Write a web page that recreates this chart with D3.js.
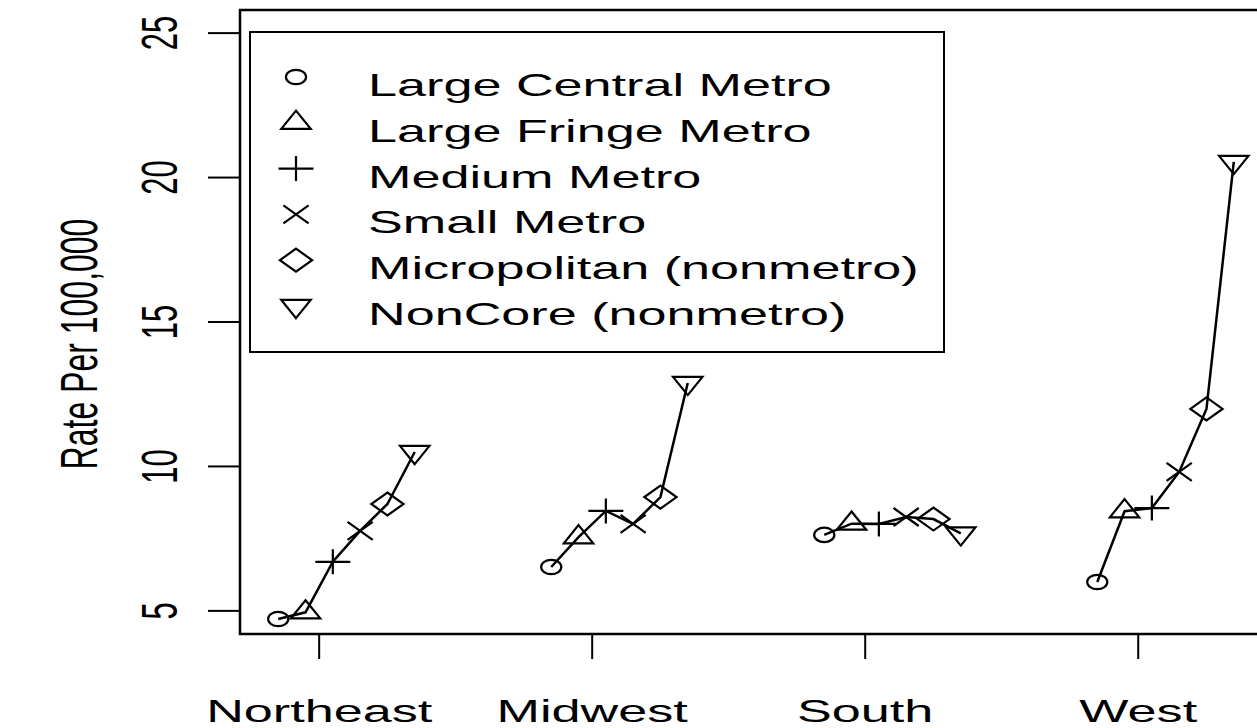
<!DOCTYPE html>
<html>
<head>
<meta charset="utf-8">
<script src="https://cdn.jsdelivr.net/npm/d3@7"></script>
<style>
  html, body { margin: 0; padding: 0; background: #fff; }
  svg { display: block; font-family: "Liberation Sans", Arial, sans-serif; }
</style>
</head>
<body>
<div id="chart"></div>
<script>
// region groups on the x axis
const regions = ['Northeast', 'Midwest', 'South', 'West'];

// urbanization levels, one symbol each
const categories = [
  'Large Central Metro',
  'Large Fringe Metro',
  'Medium Metro',
  'Small Metro',
  'Micropolitan (nonmetro)',
  'NonCore (nonmetro)'
];

// rate per 100,000 by region, in category order
const northeast = [4.72, 4.95, 6.70, 7.77, 8.70, 10.50];
const midwest = [6.52, 7.55, 8.46, 8.01, 8.94, 12.89];
const south = [7.63, 8.02, 8.01, 8.25, 8.18, 7.68];
const west = [6.00, 8.45, 8.56, 9.81, 11.99, 20.54];

// horizontal offset of each category inside its region group
const offsets = [-0.15, -0.05, 0.05, 0.15, 0.25, 0.35];

const yTicks = [5, 10, 15, 20, 25];

const series = [northeast, midwest, south, west];

const width = 1257, height = 728;
const textStretch = 1.63;   // the original is stretched sideways
const symStretch = 1.4;

const svg = d3.select('#chart').append('svg')
  .attr('width', width)
  .attr('height', height);

const x = d3.scaleLinear()
  .domain([0.71, 4.49])
  .range([240, 1272]);

const y = d3.scaleLinear()
  .domain([4.2, 25.8])
  .range([634, 10]);

// symbol outlines, unstretched, centred on 0,0
function symbolPath(i) {
  const t = 7.8;
  switch (i) {
    case 0: { const r = 7.2; return `M${r},0A${r},${r} 0 1,1 ${-r},0A${r},${r} 0 1,1 ${r},0Z`; }
    case 1: return `M0,${-1.555 * t}L${1.347 * t},${0.778 * t}L${-1.347 * t},${0.778 * t}Z`;
    case 2: { const s = 12.5; return `M${-s},0H${s}M0,${-s}V${s}`; }
    case 3: { const s = 9; return `M${-s},${-s}L${s},${s}M${-s},${s}L${s},${-s}`; }
    case 4: { const s = 11.5; return `M0,${-s}L${s},0L0,${s}L${-s},0Z`; }
    default: return `M0,${1.555 * t}L${1.347 * t},${-0.778 * t}L${-1.347 * t},${-0.778 * t}Z`;
  }
}

function drawSymbol(g, i, cx, cy) {
  g.append('path')
    .attr('d', symbolPath(i))
    .attr('transform', `translate(${cx},${cy}) scale(${symStretch},1)`)
    .attr('fill', 'none')
    .attr('stroke', '#000')
    .attr('stroke-width', 2.2)
    .attr('vector-effect', 'non-scaling-stroke');
}

// plot box (right side runs off the picture)
svg.append('rect')
  .attr('x', 240)
  .attr('y', 10)
  .attr('width', 1040)
  .attr('height', 624)
  .attr('fill', 'none')
  .attr('stroke', '#000')
  .attr('stroke-width', 2.5);

// y axis ticks and labels
const yAxis = svg.append('g');
yAxis.selectAll('line')
  .data(yTicks).enter()
  .append('line')
  .attr('x1', 208).attr('x2', 240)
  .attr('y1', d => y(d)).attr('y2', d => y(d))
  .attr('stroke', '#000')
  .attr('stroke-width', 2);
yAxis.selectAll('text')
  .data(yTicks).enter()
  .append('text')
  .attr('transform', d => `translate(177,${y(d)}) scale(${textStretch},1) rotate(-90)`)
  .attr('text-anchor', 'middle')
  .attr('font-size', 31)
  .text(d => d);

// x axis ticks and labels
const xAxis = svg.append('g');
xAxis.selectAll('line')
  .data(regions).enter()
  .append('line')
  .attr('x1', (d, i) => x(i + 1)).attr('x2', (d, i) => x(i + 1))
  .attr('y1', 634).attr('y2', 659)
  .attr('stroke', '#000')
  .attr('stroke-width', 2);
xAxis.selectAll('text')
  .data(regions).enter()
  .append('text')
  .attr('transform', (d, i) => `translate(${x(i + 1)},722) scale(${textStretch},1)`)
  .attr('text-anchor', 'middle')
  .attr('font-size', 32)
  .text(d => d);

// y axis title
svg.append('text')
  .attr('transform', `translate(97,344) scale(${textStretch},1) rotate(-90)`)
  .attr('text-anchor', 'middle')
  .attr('font-size', 32)
  .text('Rate Per 100,000');

// one connected line of points per region
const line = d3.line()
  .x(d => x(d.x))
  .y(d => y(d.v));

series.forEach((vals, r) => {
  const pts = vals.map((v, i) => ({x: r + 1 + offsets[i], v: v, i: i}));
  const g = svg.append('g');
  g.append('path')
    .attr('d', line(pts))
    .attr('fill', 'none')
    .attr('stroke', '#000')
    .attr('stroke-width', 2.5);
  pts.forEach(p => drawSymbol(g, p.i, x(p.x), y(p.v)));
});

// legend
const legend = svg.append('g');
legend.append('rect')
  .attr('x', 250)
  .attr('y', 32)
  .attr('width', 694)
  .attr('height', 320)
  .attr('fill', '#fff')
  .attr('stroke', '#000')
  .attr('stroke-width', 2);

categories.forEach((name, i) => {
  const cy = 77 + i * 45.8;
  drawSymbol(legend, i, 296, cy);
  legend.append('text')
    .attr('transform', `translate(368,${cy + 19}) scale(${textStretch},1)`)
    .attr('font-size', 32)
    .text(name);
});
</script>
</body>
</html>
